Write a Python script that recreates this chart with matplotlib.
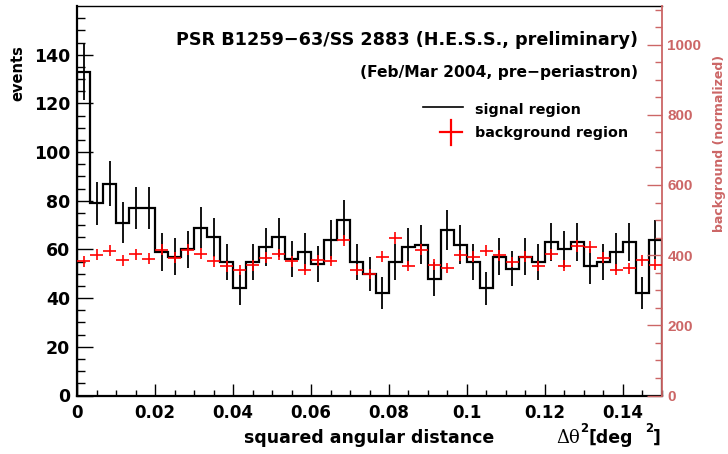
import numpy as np
import matplotlib
matplotlib.use("Agg")
import matplotlib.pyplot as plt
from matplotlib.lines import Line2D

plt.rcParams['font.family'] = ['DejaVu Sans']
plt.rcParams['font.weight'] = 'bold'

# ---- data ----
x_min, x_max, n_bins = 0.0, 0.15, 45
signal = [133, 79, 87, 71, 77, 77, 59, 57, 60, 69, 65, 55, 44, 55, 61, 65, 56, 59,
          54, 64, 72, 55, 50, 42, 55, 61, 62, 48, 68, 62, 55, 44, 57, 52, 57, 55,
          63, 60, 63, 53, 55, 59, 63, 42, 64]
background_norm = [382, 401, 412, 385, 403, 390, 416, 393, 416, 404, 382, 368, 358,
                   371, 393, 403, 382, 359, 385, 383, 442, 359, 347, 395, 449, 369,
                   416, 373, 364, 399, 395, 412, 400, 380, 396, 369, 403, 370, 426,
                   423, 393, 359, 362, 385, 373]
x_ticks = [0, 0.02, 0.04, 0.06, 0.08, 0.1, 0.12, 0.14]
x_tick_labels = ["0", "0.02", "0.04", "0.06", "0.08", "0.1", "0.12", "0.14"]
y_ticks = [0, 20, 40, 60, 80, 100, 120, 140]
y2_ticks = [0, 200, 400, 600, 800, 1000]
title = "PSR B1259\u221263/SS 2883 (H.E.S.S., preliminary)"
subtitle = "(Feb/Mar 2004, pre\u2212periastron)"
y_max_left = 160.0
y_max_right = 1110.0

RED = '#cc6666'
signal = np.array(signal, dtype=float)
bg = np.array(background_norm, dtype=float)
edges = np.linspace(x_min, x_max, n_bins + 1)
centers = 0.5 * (edges[:-1] + edges[1:])
half_w = 0.5 * (edges[1] - edges[0])

W, H = 728.0, 454.0
fig = plt.figure(figsize=(7.28, 4.54), dpi=100)
ax = fig.add_axes([77.3 / W, 1 - 395.5 / H, (661.7 - 77.3) / W, (395.5 - 6) / H])
ax2 = ax.twinx()

# signal histogram
ax.stairs(signal, edges, color='black', lw=1.6, zorder=3)
ax.errorbar(centers, signal, yerr=np.sqrt(signal), fmt='none', ecolor='black',
            elinewidth=1.3, capsize=0, zorder=4)

# background on right scale
ax2.errorbar(centers, bg, xerr=half_w, yerr=0.78 * np.sqrt(bg), fmt='none',
             ecolor='red', elinewidth=1.2, capsize=0, zorder=5)

ax.set_xlim(x_min, x_max)
ax.set_ylim(0, y_max_left)
ax2.set_ylim(0, y_max_right)

ax.set_xticks(x_ticks)
ax.set_xticklabels(x_tick_labels)
ax.set_xticks(np.arange(0, 0.1501, 0.005), minor=True)
ax.set_yticks(y_ticks)
ax.set_yticks(np.arange(0, 160, 5), minor=True)
ax2.set_yticks(y2_ticks)
ax2.set_yticks(np.arange(0, 1101, 50), minor=True)

ax.tick_params(axis='x', which='major', direction='in', length=8.6, width=1.0,
               labelsize=12, pad=6, top=False)
ax.tick_params(axis='x', which='minor', direction='in', length=4.3, width=1.0, top=False)
ax.tick_params(axis='y', which='major', direction='in', length=11.5, width=1.0,
               labelsize=12.5, pad=5, right=False)
ax.tick_params(axis='y', which='minor', direction='in', length=5.8, width=1.0, right=False)
ax2.tick_params(axis='y', which='major', direction='in', length=10.8, width=1.0,
                labelsize=11, pad=4, colors=RED)
ax2.tick_params(axis='y', which='minor', direction='in', length=5.0, width=1.0, colors=RED)
for lab in ax.get_xticklabels() + ax.get_yticklabels():
    lab.set_fontweight('bold')
for lab in ax2.get_yticklabels():
    lab.set_fontweight('bold')
    lab.set_family(['Liberation Sans'])

for s in ['left', 'bottom']:
    ax.spines[s].set_linewidth(1.6)
ax.spines['top'].set_linewidth(1.0)
ax2.spines['right'].set_color(RED)
ax2.spines['right'].set_linewidth(1.3)
ax2.spines['left'].set_visible(False)
ax2.spines['top'].set_visible(False)
ax2.spines['bottom'].set_visible(False)
ax.spines['right'].set_visible(False)

# texts
fig.text(638 / W, 1 - 40 / H, title, ha='right', va='center', fontsize=12.7,
         fontweight='bold')
fig.text(638 / W, 1 - 72 / H, subtitle, ha='right', va='center', fontsize=11.2,
         fontweight='bold')

# legend (manual)
fig.add_artist(Line2D([423 / W, 463 / W], [1 - 107.3 / H, 1 - 107.3 / H],
                      color='black', lw=1.2))
fig.add_artist(Line2D([440 / W, 462 / W], [1 - 132.3 / H, 1 - 132.3 / H],
                      color='red', lw=1.6))
fig.add_artist(Line2D([451 / W, 451 / W], [1 - 120 / H, 1 - 145 / H],
                      color='red', lw=1.6))
fig.text(475 / W, 1 - 110 / H, "signal region", ha='left', va='center',
         fontsize=10.3, fontweight='bold')
fig.text(475 / W, 1 - 133 / H, "background region", ha='left', va='center',
         fontsize=10.3, fontweight='bold')

# axis titles
fig.text(18 / W, 1 - 45 / H, "events", rotation=90, ha='center', va='top',
         fontsize=10.5, fontweight='bold')
fig.text(720 / W, 1 - 55 / H, "background (normalized)", rotation=90,
         ha='center', va='top', fontsize=9, fontweight='bold', color=RED)
fig.text(494 / W, 1 - 438 / H, "squared angular distance", ha='right',
         va='center', fontsize=12.5, fontweight='bold')
fig.text(556 / W, 1 - 438 / H, "\u0394\u03b8", ha='left', va='center',
         fontsize=13, fontweight='normal', family=['DejaVu Serif'])
fig.text(580 / W, 1 - 429 / H, "2", ha='left', va='center', fontsize=8.5,
         fontweight='bold')
fig.text(588 / W, 1 - 438 / H, "[deg", ha='left', va='center', fontsize=12.5,
         fontweight='bold')
fig.text(645 / W, 1 - 429 / H, "2", ha='left', va='center', fontsize=8.5,
         fontweight='bold')
fig.text(653 / W, 1 - 438 / H, "]", ha='left', va='center', fontsize=12.5,
         fontweight='bold')

fig.savefig("out.png", dpi=100)
